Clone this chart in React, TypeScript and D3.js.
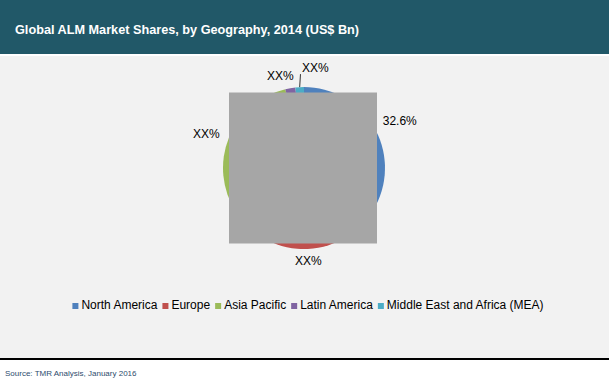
import React, { useEffect, useRef } from "react";
import * as d3 from "d3";

const title = "Global ALM Market Shares, by Geography, 2014 (US$ Bn)";
const source = "Source: TMR Analysis, January 2016";
const categories = ["North America", "Europe", "Asia Pacific", "Latin America", "Middle East and Africa (MEA)"];
const shares = [32.6, 33.3, 30.4, 2.0, 1.7];
const labels = ["32.6%", "XX%", "XX%", "XX%", "XX%"];
const colors = ["#4F81BD", "#C0504D", "#9BBB59", "#8064A2", "#4BACC6"];

const W = 610;
const H = 382;
const FONT = "'Liberation Sans', Arial, sans-serif";

export default function App() {
  const ref = useRef<SVGSVGElement | null>(null);

  useEffect(() => {
    document.body.style.margin = "0";
    const svg = d3.select(ref.current);
    svg.selectAll("*").remove();

    // header
    svg.append("rect").attr("x", 0).attr("y", 0).attr("width", 609).attr("height", 54).attr("fill", "#215868");
    svg.append("text").attr("x", 15).attr("y", 33.5).attr("fill", "#fff").attr("font-family", FONT)
      .attr("font-weight", "bold").attr("font-size", 12.7).text(title);

    // plot panel
    svg.append("rect").attr("x", 0).attr("y", 56).attr("width", 609).attr("height", 302).attr("fill", "#F2F2F2");
    svg.append("rect").attr("x", 0).attr("y", 358).attr("width", 609).attr("height", 2).attr("fill", "#000");

    svg.append("text").attr("x", 5).attr("y", 375.5).attr("fill", "#2E4C6D").attr("font-family", FONT)
      .attr("font-size", 8).text(source);

    // pie
    const cx = 304, cy = 168, R = 81;
    const pie = d3.pie<number>().sort(null).value((d) => d);
    const arcs = pie(shares);
    const arc = d3.arc<d3.PieArcDatum<number>>().innerRadius(0).outerRadius(R);
    const g = svg.append("g").attr("transform", `translate(${cx},${cy})`);
    g.selectAll("path.slice").data(arcs).enter().append("path").attr("class", "slice")
      .attr("d", arc as any).attr("fill", (_, i) => colors[i]);

    // grey overlay box
    svg.append("rect").attr("x", cx - 75).attr("y", cy - 75.5).attr("width", 148).attr("height", 151).attr("fill", "#A6A6A6");

    // labels
    const total = d3.sum(shares);
    arcs.forEach((d, i) => {
      const a = (d.startAngle + d.endAngle) / 2;
      const s = Math.sin(a), c = Math.cos(a);
      const pt = (r: number) => [cx + r * s, cy - r * c];
      const t = svg.append("text").attr("font-family", FONT).attr("font-size", 12).attr("fill", "#000").text(labels[i]);
      if ((shares[i] / total) * 100 < 1.9) {
        const p0 = pt(R);
        const p1 = [pt(R + 13)[0] + 1.5, pt(R + 13)[1]];
        svg.append("line").attr("x1", p0[0]).attr("y1", p0[1]).attr("x2", p1[0]).attr("y2", p1[1])
          .attr("stroke", "#000").attr("stroke-width", 0.8);
        t.attr("x", p1[0] + 1.5).attr("y", p1[1] - 2.5).attr("text-anchor", "start");
        return;
      }
      const p = pt(R + 10);
      if (Math.abs(s) >= 0.3) {
        t.attr("x", s > 0 ? p[0] + 1 : p[0]).attr("y", p[1] + 4.3).attr("text-anchor", s > 0 ? "start" : "end");
      } else if (c > 0) {
        t.attr("x", s < 0 ? p[0] + 5 : p[0] - 5).attr("y", p[1] + 2).attr("text-anchor", s < 0 ? "end" : "start");
      } else {
        t.attr("x", p[0]).attr("y", p[1] + 6).attr("text-anchor", "middle");
      }
    });

    // legend
    const lg = svg.append("g");
    let x = 0;
    const sq = 6, gap1 = 3, gap2 = 5;
    categories.forEach((name, i) => {
      lg.append("rect").attr("x", x).attr("y", 303).attr("width", sq).attr("height", sq).attr("fill", colors[i]);
      const t = lg.append("text").attr("x", x + sq + gap1).attr("y", 309).attr("font-family", FONT)
        .attr("font-size", 12).attr("fill", "#000").text(name);
      const w = (t.node() as SVGTextElement).getComputedTextLength();
      x += sq + gap1 + w + gap2;
    });
    const totalW = x - gap2;
    lg.attr("transform", `translate(${308 - totalW / 2},0)`);
  }, []);

  return <svg ref={ref} width={W} height={H} style={{ display: "block", background: "#fff" }} />;
}
